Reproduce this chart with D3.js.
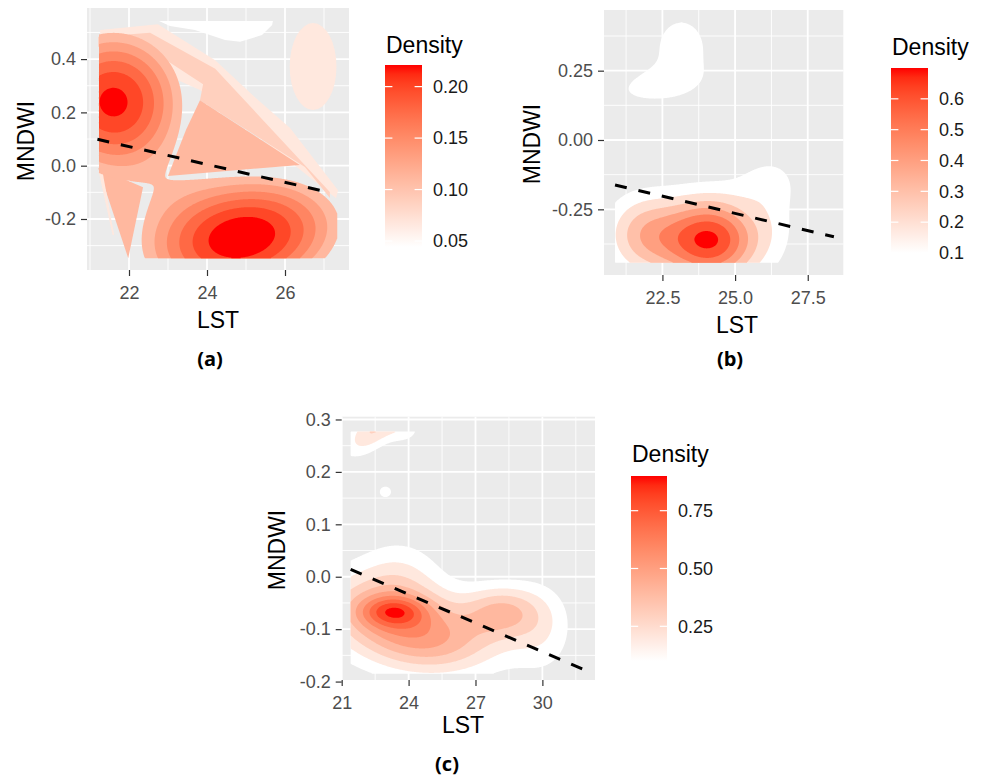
<!DOCTYPE html>
<html>
<head>
<meta charset="utf-8">
<script src="https://cdn.jsdelivr.net/npm/d3@7"></script>
<style>
  body { margin: 0; background: #fff; }
  text { font-family: "Liberation Sans", Arial, sans-serif; }
</style>
</head>
<body>
<svg id="chart" width="986" height="777"></svg>
<script>
// ---- data ----
// density levels (contour breaks) of each panel
var levelsA = [0.0442, 0.0663, 0.0884, 0.1105, 0.1326, 0.1547, 0.1768, 0.1989, 0.221];
var levelsB = [0.1, 0.2, 0.3, 0.4, 0.5, 0.6, 0.7];
var levelsC = [0.1, 0.2, 0.3, 0.4, 0.5, 0.6, 0.7, 0.8, 0.9];

// density bumps: [LST, MNDWI, peak, sdLST, sdMNDWI, rho]
var blobsA = [
  [21.6, 0.24, 0.2275, 1.45, 0.215, 0],
  [24.92, -0.27, 0.2408, 1.98, 0.18, 0.2]
];
var blobsB = [
  [24.1, -0.36, 0.72, 1.2, 0.104, 0],
  [21.8, -0.34, 0.3, 0.9, 0.1, 0],
  [26.4, -0.25, 0.08, 0.6, 0.13, 0],
  [26.0, -0.15, 0.09, 0.8, 0.06, 0],
  [23.15, 0.33, 0.135, 0.95, 0.12, 0],
  [22.2, 0.195, 0.13, 1.0, 0.045, 0.3]
];
var blobsC = [
  [23.35, -0.066, 0.345, 1.0, 0.02, 0],
  [23.2, -0.075, 0.5, 2.2, 0.055, -0.2],
  [28.2, -0.066, 0.36, 1.2, 0.035, 0],
  [25.5, -0.13, 0.28, 2.2, 0.045, 0],
  [23.6, 0.01, 0.13, 1.3, 0.05, 0],
  [30.0, -0.1, 0.15, 1.0, 0.06, 0],
  [22.4, 0.28, 0.3, 0.9, 0.034, 0.6],
  [23.8, 0.28, 0.13, 0.6, 0.02, 0],
  [22.96, 0.162, 0.14, 0.3, 0.012, 0]
];

// open polygons of the low levels in panel (a): [level, [[LST, MNDWI], ...]]
var shapesA = [
  [0.0442, [[22.77,0.543],[25.69,0.543],[25.67,0.528],[25.41,0.49],[24.85,0.465],[24.46,0.472],[23.69,0.509],[23.05,0.524]]],
  [0.0663, [[21.26,0.509],[22.74,0.531],[24.21,0.396],[25.23,0.257],[26.13,0.141],[27.36,-0.092],[27.31,-0.122],[23.82,0.284],[21.26,0.45]]],
  [0.0884, [[21.21,0.484],[22.54,0.499],[24.21,0.364],[27.15,-0.099],[27.15,-0.121],[26.51,-0.005],[23.82,0.246],[23.9,0.306],[22.8,0.411],[21.21,0.446]]],
  [0.1105, [[23.82,0.246],[23.46,0.134],[23.0,-0.039],[26.38,0.003]]],
  [0.1105, [[21.21,-0.009],[22.36,-0.081],[21.98,-0.347]]],
  [0.0663, [[21.22,-0.02],[21.33,-0.03],[21.62,-0.26],[21.58,-0.26]]]
];
// pale ellipse in panel (a): [level, LST, MNDWI, halfLST, halfMNDWI]
var ellipsesA = [[0.0663, 26.72, 0.372, 0.6, 0.163]];

// dashed fit lines
var lineA = [[21.19, 0.099], [27.15, -0.101]];
var lineB = [[20.87, -0.162], [28.4, -0.349]];
var lineC = [[21.4, 0.014], [31.86, -0.177]];

// ticks
var xTicksA = [22, 24, 26], xMinorA = [21, 23, 25, 27];
var yTicksA = [-0.2, 0, 0.2, 0.4], yMinorA = [-0.3, -0.1, 0.1, 0.3, 0.5];
var xTicksB = [22.5, 25, 27.5], xMinorB = [21.25, 23.75, 26.25, 28.75];
var yTicksB = [-0.25, 0, 0.25], yMinorB = [-0.375, -0.125, 0.125, 0.375];
var xTicksC = [21, 24, 27, 30], xMinorC = [22.5, 25.5, 28.5, 31.5];
var yTicksC = [-0.2, -0.1, 0, 0.1, 0.2, 0.3], yMinorC = [-0.15, -0.05, 0.05, 0.15, 0.25];
var legTicksA = [0.05, 0.10, 0.15, 0.20];
var legTicksB = [0.1, 0.2, 0.3, 0.4, 0.5, 0.6];
var legTicksC = [0.25, 0.50, 0.75];

// ---- layout ----
var panels = [
  { id: "a", left: 87, right: 349, top: 8, bottom: 270,
    xDomain: [20.923, 27.641], yDomain: [-0.3914, 0.5917], grid: [21.23, 27.34, -0.347, 0.547],
    xTicks: xTicksA, xMinor: xMinorA, yTicks: yTicksA, yMinor: yMinorA, xDec: 0, yDec: 1,
    blobs: blobsA, levels: levelsA.slice(3), colorDomain: [0.0442, 0.221],
    shapes: shapesA, ellipses: ellipsesA, line: lineA,
    legTicks: legTicksA, legDec: 2, leg: { x: 385, y: 65, w: 37, h: 182, ty: 53 },
    xTitle: [218, 328], yTitle: [34, 141], tag: [210, 366, "(a)"] },
  { id: "b", left: 604, right: 843.5, top: 10, bottom: 275,
    xDomain: [20.49, 28.73], yDomain: [-0.4868, 0.4688], grid: [20.87, 28.36, -0.443, 0.425],
    xTicks: xTicksB, xMinor: xMinorB, yTicks: yTicksB, yMinor: yMinorB, xDec: 1, yDec: 2,
    blobs: blobsB, levels: levelsB, colorDomain: [0.1, 0.7],
    shapes: [], ellipses: [], line: lineB,
    legTicks: legTicksB, legDec: 1, leg: { x: 891, y: 68, w: 37, h: 185, ty: 55 },
    xTitle: [737, 333], yTitle: [540, 144], tag: [730, 366, "(b)"] },
  { id: "c", left: 341.7, right: 595, top: 416.7, bottom: 680,
    xDomain: [21.0, 32.36], yDomain: [-0.197, 0.3053], grid: [21.4, 31.86, -0.185, 0.277],
    xTicks: xTicksC, xMinor: xMinorC, yTicks: yTicksC, yMinor: yMinorC, xDec: 0, yDec: 1,
    blobs: blobsC, levels: levelsC, colorDomain: [0.1, 0.9],
    shapes: [], ellipses: [], line: lineC,
    legTicks: legTicksC, legDec: 2, leg: { x: 631, y: 476, w: 36, h: 185, ty: 461.5 },
    xTitle: [463, 733], yTitle: [285, 550], tag: [447, 771, "(c)"] }
];

var svg = d3.select("#chart");
var defs = svg.append("defs");

function density(blobs, u, v) {
  var s = 0;
  blobs.forEach(function(b) {
    var dx = (u - b[0]) / b[3], dy = (v - b[1]) / b[4], r = b[5];
    s += b[2] * Math.exp(-0.5 * (dx * dx - 2 * r * dx * dy + dy * dy) / (1 - r * r));
  });
  return s;
}

function drawPanel(p) {
  var x = d3.scaleLinear().domain(p.xDomain).range([p.left, p.right]);
  var y = d3.scaleLinear().domain(p.yDomain).range([p.bottom, p.top]);
  var color = d3.scaleLinear().domain(p.colorDomain).range(["#ffffff", "#ff0000"])
      .interpolate(d3.interpolateLab).clamp(true);
  var g = svg.append("g");

  defs.append("clipPath").attr("id", "clip-" + p.id)
    .append("rect").attr("x", p.left).attr("y", p.top)
    .attr("width", p.right - p.left).attr("height", p.bottom - p.top);

  g.append("rect").attr("x", p.left).attr("y", p.top)
    .attr("width", p.right - p.left).attr("height", p.bottom - p.top)
    .attr("fill", "#ebebeb");

  // grid
  var grid = g.append("g").attr("stroke", "#fff");
  grid.selectAll(".vmin").data(p.xMinor).enter().append("line")
    .attr("x1", x).attr("x2", x).attr("y1", p.top).attr("y2", p.bottom).attr("stroke-width", 0.9);
  grid.selectAll(".hmin").data(p.yMinor).enter().append("line")
    .attr("y1", y).attr("y2", y).attr("x1", p.left).attr("x2", p.right).attr("stroke-width", 0.9);
  grid.selectAll(".vmaj").data(p.xTicks).enter().append("line")
    .attr("x1", x).attr("x2", x).attr("y1", p.top).attr("y2", p.bottom).attr("stroke-width", 1.8);
  grid.selectAll(".hmaj").data(p.yTicks).enter().append("line")
    .attr("y1", y).attr("y2", y).attr("x1", p.left).attr("x2", p.right).attr("stroke-width", 1.8);

  var plot = g.append("g").attr("clip-path", "url(#clip-" + p.id + ")");

  // low-level polygons (panel a)
  var poly = d3.line().x(function(d) { return x(d[0]); }).y(function(d) { return y(d[1]); })
    .curve(d3.curveLinearClosed);
  p.shapes.forEach(function(s) {
    plot.append("path").attr("d", poly(s[1])).attr("fill", color(s[0]));
  });
  p.ellipses.forEach(function(e) {
    plot.append("ellipse").attr("cx", x(e[1])).attr("cy", y(e[2]))
      .attr("rx", x(e[1] + e[3]) - x(e[1])).attr("ry", y(e[2]) - y(e[2] + e[4]))
      .attr("fill", color(e[0]));
  });

  // filled density contours
  var n = 260, m = 200, gr = p.grid;
  var values = new Array(n * m);
  for (var j = 0; j < m; j++) {
    var v = gr[2] + (j + 0.5) / m * (gr[3] - gr[2]);
    for (var i = 0; i < n; i++) {
      var u = gr[0] + (i + 0.5) / n * (gr[1] - gr[0]);
      values[i + j * n] = density(p.blobs, u, v);
    }
  }
  var bands = d3.contours().size([n, m]).thresholds(p.levels)(values);
  var proj = d3.geoTransform({
    point: function(gx, gy) {
      this.stream.point(x(gr[0] + gx / n * (gr[1] - gr[0])), y(gr[2] + gy / m * (gr[3] - gr[2])));
    }
  });
  plot.selectAll(".band").data(bands).enter().append("path")
    .attr("d", d3.geoPath(proj))
    .attr("fill", function(d) { return color(d.value); });

  // dashed fit line
  plot.append("path")
    .attr("d", d3.line().x(function(d) { return x(d[0]); }).y(function(d) { return y(d[1]); })(p.line))
    .attr("fill", "none").attr("stroke", "#000").attr("stroke-width", 3)
    .attr("stroke-dasharray", "12,12");

  // axes
  var ax = g.append("g").attr("transform", "translate(0," + p.bottom + ")")
    .call(d3.axisBottom(x).tickValues(p.xTicks).tickSize(6).tickPadding(10)
      .tickFormat(function(d) { return d.toFixed(p.xDec); }));
  var ay = g.append("g").attr("transform", "translate(" + p.left + ",0)")
    .call(d3.axisLeft(y).tickValues(p.yTicks).tickSize(6).tickPadding(5)
      .tickFormat(function(d) { return d.toFixed(p.yDec); }));
  [ax, ay].forEach(function(a) {
    a.select(".domain").remove();
    a.selectAll(".tick line").attr("stroke", "#333").attr("stroke-width", 1.2);
    a.selectAll(".tick text").attr("fill", "#4d4d4d").style("font-size", "18px")
      .style("font-family", '"Liberation Sans", Arial, sans-serif');
  });

  g.append("text").attr("x", p.xTitle[0]).attr("y", p.xTitle[1])
    .attr("text-anchor", "middle").style("font-size", "23px").text("LST");
  g.append("text").attr("transform", "translate(" + p.yTitle[0] + "," + p.yTitle[1] + ") rotate(-90)")
    .attr("text-anchor", "middle").style("font-size", "23px").text("MNDWI");

  // colour bar legend
  var L = p.leg;
  var grad = defs.append("linearGradient").attr("id", "grad-" + p.id)
    .attr("x1", 0).attr("y1", 1).attr("x2", 0).attr("y2", 0);
  d3.range(0, 1.0001, 0.05).forEach(function(t) {
    var val = p.colorDomain[0] + t * (p.colorDomain[1] - p.colorDomain[0]);
    grad.append("stop").attr("offset", t).attr("stop-color", color(val));
  });
  var ly = d3.scaleLinear().domain(p.colorDomain).range([L.y + L.h, L.y]);
  g.append("rect").attr("x", L.x).attr("y", L.y).attr("width", L.w).attr("height", L.h)
    .attr("fill", "url(#grad-" + p.id + ")");
  var lt = g.append("g");
  p.legTicks.forEach(function(t) {
    lt.append("line").attr("x1", L.x).attr("x2", L.x + L.w / 5).attr("y1", ly(t)).attr("y2", ly(t))
      .attr("stroke", "#fff").attr("stroke-width", 1.2);
    lt.append("line").attr("x1", L.x + L.w * 4 / 5).attr("x2", L.x + L.w).attr("y1", ly(t)).attr("y2", ly(t))
      .attr("stroke", "#fff").attr("stroke-width", 1.2);
    lt.append("text").attr("x", L.x + L.w + 11).attr("y", ly(t)).attr("dy", "0.35em")
      .attr("fill", "#1a1a1a").style("font-size", "18px").text(t.toFixed(p.legDec));
  });
  g.append("text").attr("x", L.x + 1).attr("y", L.ty).style("font-size", "23px").text("Density");

  svg.append("text").attr("x", p.tag[0]).attr("y", p.tag[1]).attr("text-anchor", "middle")
    .style("font-family", '"Open Sans", sans-serif').style("font-weight", "bold")
    .style("font-size", "20px").text(p.tag[2]);
}

panels.forEach(drawPanel);
</script>
</body>
</html>
